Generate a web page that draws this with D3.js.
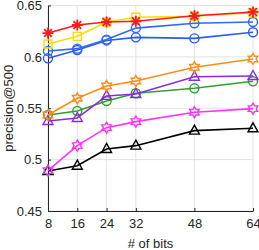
<!DOCTYPE html>
<html><head><meta charset="utf-8">
<script src="https://cdn.jsdelivr.net/npm/d3@7"></script>
<style>body{margin:0;background:#fff}svg{display:block}text{font-family:"Liberation Sans",Arial,sans-serif}</style>
</head><body>
<svg id="c" width="259" height="250"></svg>
<script>
const bits = [8, 16, 24, 32, 48, 64];
const yTicks = [0.45, 0.5, 0.55, 0.6, 0.65];
const redStar = [0.6232, 0.6310, 0.6340, 0.6346, 0.6400, 0.6437];
const yellowSquare = [0.6125, 0.6200, 0.6340, 0.6385, 0.6395, 0.6430];
const blueCircleA = [0.6057, 0.6080, 0.6168, 0.6280, 0.6327, 0.6340];
const blueCircleB = [0.5986, 0.6067, 0.6160, 0.6190, 0.6180, 0.6240];
const orangeHex = [0.5434, 0.5597, 0.5717, 0.5765, 0.5899, 0.5980];
const greenCircle = [0.5434, 0.5473, 0.5570, 0.5646, 0.5694, 0.5762];
const purpleTri = [0.5376, 0.5405, 0.5620, 0.5639, 0.5807, 0.5814];
const magentaHex = [0.4893, 0.5136, 0.5311, 0.5370, 0.5461, 0.5496];
const blackTri = [0.4890, 0.4941, 0.5104, 0.5136, 0.5282, 0.5305];

const series = [
  {v: blackTri, c: "#000000", m: "tri"},
  {v: magentaHex, c: "#FF33FF", m: "hex"},
  {v: greenCircle, c: "#33A02C", m: "circle"},
  {v: purpleTri, c: "#8A2BE2", m: "tri"},
  {v: orangeHex, c: "#FF8C1A", m: "hex"},
  {v: blueCircleB, c: "#2D5BEB", m: "circle"},
  {v: blueCircleA, c: "#2D6BF5", m: "circle"},
  {v: yellowSquare, c: "#F5DC12", m: "square"},
  {v: redStar, c: "#FF1A1A", m: "star"}
];

const svg = d3.select("#c");
const L = 48, R = 253, T = 5.5, B = 211;
const x = d3.scaleLinear().domain([8, 64]).range([L, R]);
const y = d3.scaleLinear().domain([0.45, 0.65]).range([B, T]);

// grid
const g = svg.append("g");
g.selectAll(".gx").data(bits).enter().append("line")
  .attr("x1", d => x(d)).attr("x2", d => x(d)).attr("y1", T).attr("y2", B)
  .attr("stroke", "#e3e3e3").attr("stroke-width", 1);
g.selectAll(".gy").data(yTicks).enter().append("line")
  .attr("x1", L).attr("x2", R).attr("y1", d => y(d)).attr("y2", d => y(d))
  .attr("stroke", "#e3e3e3").attr("stroke-width", 1);

// axes
const xa = svg.append("g").attr("transform", `translate(0,${B})`)
  .call(d3.axisBottom(x).tickValues(bits).tickSizeInner(-3).tickSizeOuter(0).tickPadding(8).tickFormat(d3.format("d")));
const ya = svg.append("g").attr("transform", `translate(${L},0)`)
  .call(d3.axisLeft(y).tickValues(yTicks).tickSizeInner(-3).tickSizeOuter(0).tickPadding(6).tickFormat(d => String(d)));
[xa, ya].forEach(a => {
  a.select(".domain").attr("stroke", "#262626").attr("stroke-width", 1);
  a.selectAll(".tick line").attr("stroke", "#262626");
  a.selectAll("text").attr("font-size", 13).attr("fill", "#262626").attr("font-family", "Liberation Sans, Arial, sans-serif");
});

svg.append("text").attr("x", (L + R) / 2 + 0).attr("y", 248).attr("text-anchor", "middle")
  .attr("font-size", 13).attr("fill", "#262626").text("# of bits");
svg.append("text").attr("transform", `translate(13,${(T + B) / 2}) rotate(-90)`).attr("text-anchor", "middle")
  .attr("font-size", 13).attr("fill", "#262626").text("precision@500");

function markerPath(m) {
  if (m === "circle") return d3.symbol(d3.symbolCircle, 64)();
  if (m === "square") return "M-4,-4L4,-4L4,4L-4,4Z";
  if (m === "tri") return "M0,-5.5L5,3.5L-5,3.5Z";
  if (m === "hex") {
    const ro = 5.5, ri = ro / Math.sqrt(3);
    let p = "";
    for (let i = 0; i < 12; i++) {
      const r = i % 2 === 0 ? ro : ri;
      const a = -Math.PI / 2 + i * Math.PI / 6;
      p += (i ? "L" : "M") + (r * Math.cos(a)).toFixed(2) + "," + (r * Math.sin(a)).toFixed(2);
    }
    return p + "Z";
  }
  if (m === "star") {
    const r = 5.5, d = r * 0.707;
    return `M${-r},0L${r},0M0,${-r}L0,${r}M${-d},${-d}L${d},${d}M${-d},${d}L${d},${-d}`;
  }
}

const line = d3.line().x((d, i) => x(bits[i])).y(d => y(d));
series.forEach(s => {
  const sg = svg.append("g");
  sg.append("path").datum(s.v).attr("d", line).attr("fill", "none")
    .attr("stroke", s.c).attr("stroke-width", 1.6);
  sg.selectAll(".m").data(s.v).enter().append("path")
    .attr("transform", (d, i) => `translate(${x(bits[i])},${y(d)})`)
    .attr("d", markerPath(s.m)).attr("fill", "none")
    .attr("stroke", s.c).attr("stroke-width", s.m === "star" ? 1.8 : 1.4);
});
</script>
</body></html>
